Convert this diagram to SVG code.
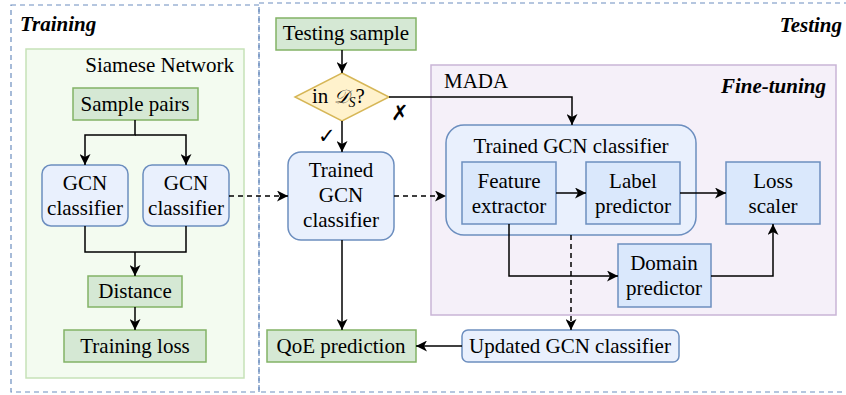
<svg xmlns="http://www.w3.org/2000/svg" width="846" height="395" viewBox="0 0 846 395">
<defs>
<marker id="arr" markerWidth="12" markerHeight="11" refX="11" refY="5.5" orient="auto" markerUnits="userSpaceOnUse">
<path d="M0,0 L11,5.5 L0,11 L3,5.5 z" fill="#000"/>
</marker>
</defs>
<style>
text{font-family:'Liberation Serif',serif;font-size:21px;fill:#000}
.c{text-anchor:middle}
.bi{font-weight:bold;font-style:italic}
.mk{font-family:'DejaVu Sans',sans-serif;font-size:21px;font-weight:bold}
.g{fill:#d5e8d4;stroke:#82b366;stroke-width:1.5}
.b{fill:#dae8fc;stroke:#6c8ebf;stroke-width:1.5}
.lb{fill:#e9f0fd;stroke:#6c8ebf;stroke-width:1.5}
.ln{fill:none;stroke:#000;stroke-width:1.5}
.da{stroke-dasharray:5 4}
.frame{fill:none;stroke:#6c8ebf;stroke-width:1.2;stroke-dasharray:5 4}
</style>
<rect id="training-frame" class="frame" x="11" y="5" width="248" height="387"/>
<rect id="testing-frame" class="frame" x="259" y="3" width="592" height="389"/>
<text class="bi" x="20" y="31">Training</text>
<text class="bi" x="842" y="32" text-anchor="end">Testing</text>

<g id="siamese">
<rect x="26" y="49" width="218" height="329" fill="#f3fbf0" stroke="#c6e2b8" stroke-width="1.5"/>
<text x="234" y="72" text-anchor="end">Siamese Network</text>
</g>
<g id="mada">
<rect x="431" y="65" width="405" height="250" fill="#f5f0f9" stroke="#c9b5d6" stroke-width="1.5"/>
<text x="444" y="88">MADA</text>
<text class="bi" x="826" y="93" text-anchor="end">Fine-tuning</text>
</g>

<g id="sample-pairs"><rect class="g" x="73" y="88" width="125" height="32"/><text class="c" x="135" y="111">Sample pairs</text></g>
<g id="gcn1"><rect class="lb" x="42" y="165" width="86" height="61" rx="9"/><text class="c" x="85" y="190">GCN</text><text class="c" x="85" y="215">classifier</text></g>
<g id="gcn2"><rect class="lb" x="143" y="165" width="86" height="61" rx="9"/><text class="c" x="186" y="190">GCN</text><text class="c" x="186" y="215">classifier</text></g>
<g id="distance"><rect class="g" x="88" y="276" width="94" height="31"/><text class="c" x="135" y="298">Distance</text></g>
<g id="training-loss"><rect class="g" x="64" y="330" width="142" height="32"/><text class="c" x="135" y="353">Training loss</text></g>

<g id="testing-sample"><rect class="g" x="276" y="18" width="140" height="32"/><text class="c" x="346" y="40">Testing sample</text></g>
<g id="in-ds"><path d="M342,73 L389,97 L342,121 L295,97 z" fill="#fff2cc" stroke="#d6b656" stroke-width="1.5"/><text x="312" y="103">in <tspan style="font-family:'DejaVu Serif',serif;font-style:italic;font-size:19px">𝒟</tspan><tspan style="font-size:14px;font-style:italic" dy="4">S</tspan><tspan dy="-4">?</tspan></text></g>
<g id="trained-gcn"><rect class="lb" x="288" y="152" width="106" height="88" rx="13"/><text class="c" x="341" y="177">Trained</text><text class="c" x="341" y="202">GCN</text><text class="c" x="341" y="227">classifier</text></g>
<g id="qoe"><rect class="g" x="267" y="330" width="149" height="32"/><text class="c" x="341" y="353">QoE prediction</text></g>

<g id="trained-gcn-big"><rect class="lb" x="446" y="125" width="250" height="110" rx="18"/><text class="c" x="571" y="153">Trained GCN classifier</text></g>
<g id="feature-extractor"><rect class="b" x="462" y="162" width="94" height="62"/><text class="c" x="509" y="188">Feature</text><text class="c" x="509" y="213">extractor</text></g>
<g id="label-predictor"><rect class="b" x="586" y="162" width="94" height="62"/><text class="c" x="633" y="188">Label</text><text class="c" x="633" y="213">predictor</text></g>
<g id="loss-scaler"><rect class="b" x="726" y="162" width="94" height="62"/><text class="c" x="773" y="188">Loss</text><text class="c" x="773" y="213">scaler</text></g>
<g id="domain-predictor"><rect class="b" x="618" y="244" width="93" height="63"/><text class="c" x="664" y="270">Domain</text><text class="c" x="664" y="295">predictor</text></g>
<g id="updated-gcn"><rect class="lb" x="462" y="330" width="217" height="32" rx="6"/><text class="c" x="570" y="353">Updated GCN classifier</text></g>

<g id="marks">
<text class="mk" x="318" y="143">✓</text>
<text class="mk" x="391" y="120">✗</text>
</g>

<g id="connectors">
<path class="ln" d="M135,120 V135 H85 V165" marker-end="url(#arr)"/>
<path class="ln" d="M135,135 H186 V165" marker-end="url(#arr)"/>
<path class="ln" d="M85,226 V252 H186 V226"/>
<path class="ln" d="M135,252 V276" marker-end="url(#arr)"/>
<path class="ln" d="M135,307 V330" marker-end="url(#arr)"/>
<path class="ln da" d="M229,196 H288" marker-end="url(#arr)"/>
<path class="ln" d="M342,50 V73" marker-end="url(#arr)"/>
<path class="ln" d="M342,121 V152" marker-end="url(#arr)"/>
<path class="ln" d="M389,97 H572 V125" marker-end="url(#arr)"/>
<path class="ln da" d="M394,196 H446" marker-end="url(#arr)"/>
<path class="ln" d="M342,240 V330" marker-end="url(#arr)"/>
<path class="ln" d="M556,193 H586" marker-end="url(#arr)"/>
<path class="ln" d="M680,193 H726" marker-end="url(#arr)"/>
<path class="ln" d="M509,224 V276 H618" marker-end="url(#arr)"/>
<path class="ln" d="M711,276 H773 V224" marker-end="url(#arr)"/>
<path class="ln da" d="M571,235 V330" marker-end="url(#arr)"/>
<path class="ln" d="M462,346 H416" marker-end="url(#arr)"/>
</g>
</svg>
